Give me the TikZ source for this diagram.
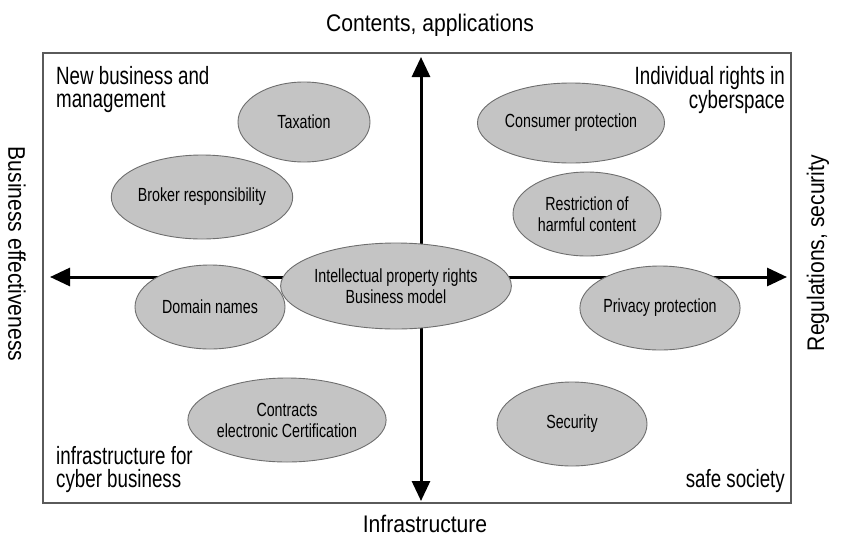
\documentclass[tikz,border=0pt]{standalone}
\usepackage{fontspec}
\setmainfont{Liberation Sans}[FakeStretch=0.75]
\newfontfamily\axisfont{Liberation Sans}[FakeStretch=0.88]
\usepackage{tikz}
\usetikzlibrary{arrows.meta, shapes.geometric}
\definecolor{BubbleFill}{HTML}{C4C4C4}
\definecolor{BubbleLine}{HTML}{6E6E6E}
\definecolor{FrameGray}{HTML}{5A5A5A}

\begin{document}
\begin{tikzpicture}[
      x=1pt, y=-1pt,
      bubble/.style={ellipse, draw=BubbleLine, fill=BubbleFill, line width=0.9pt, inner sep=0pt, minimum width=150pt, minimum height=84pt, font=\fontsize{19}{21}\selectfont, align=center},
      axislabel/.style={font=\axisfont\fontsize{24}{28}\selectfont, inner sep=0pt},
      corner/.style={font=\fontsize{25}{23}\selectfont, inner sep=0pt},
      axis/.style={line width=3pt, {Triangle[length=20pt,width=18pt]}-{Triangle[length=20pt,width=18pt]}}
    ]
      \useasboundingbox (0,0) rectangle (849,536);
      % frame
      \draw[FrameGray, line width=2pt] (43,53) rectangle (791,503);
      % axis labels
      \node[axislabel] (top) at (430,25) {Contents, applications};
      \node[axislabel, anchor=base] (bottom) at (425,532) {Infrastructure};
      \node[axislabel, rotate=-90] (left) at (17,254) {Business effectiveness};
      \node[axislabel, rotate=90] (right) at (818,253) {Regulations, security};
      % quadrant labels
      \node[corner, anchor=north west, align=left] (nw) at (56,66) {New business and\\management};
      \node[corner, anchor=north east, align=right] (ne) at (785,66) {Individual rights in\\cyberspace};
      \node[corner, anchor=south west, align=left] (sw) at (56,493) {infrastructure for\\cyber business};
      \node[corner, anchor=south east, align=right] (se) at (785,493) {safe society};
      % axes
      \coordinate (west) at (50,277);
      \coordinate (east) at (787,277);
      \coordinate (north) at (421,57);
      \coordinate (south) at (421,501);
      \draw[axis] (west) -- (east);
      \draw[axis] (south) -- (north);
      % issues
      \node[bubble, minimum width=132pt, minimum height=80pt] (tax) at (304,122) {Taxation};
      \node[bubble, minimum width=140pt] (broker) at (202,197) {Broker responsibility};
      \node[bubble] (domain) at (210,307) {Domain names};
      \node[bubble, minimum width=156pt, minimum height=86pt] (ipr) at (396,286) {Intellectual property rights\\Business model};
      \node[bubble] (contract) at (287,420) {Contracts\\electronic Certification};
      \node[bubble, minimum width=152pt, minimum height=80pt] (consumer) at (571,123) {Consumer protection};
      \node[bubble, minimum width=148pt] (harm) at (587,214) {Restriction of\\harmful content};
      \node[bubble] (privacy) at (660,308) {Privacy protection};
      \node[bubble] (security) at (572,424) {Security};
    \end{tikzpicture}
\end{document}
